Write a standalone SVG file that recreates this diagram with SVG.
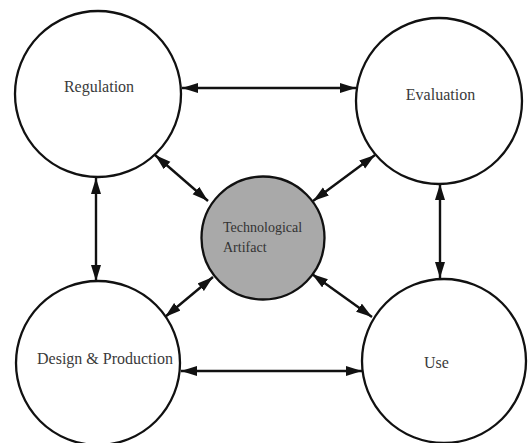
<svg xmlns="http://www.w3.org/2000/svg" width="528" height="443" viewBox="0 0 528 443">
  <style>
    .node { fill: #ffffff; stroke: #111111; stroke-width: 2.3; }
    .core { fill: #a9a9a9; stroke: #111111; stroke-width: 2.3; }
    text { font-family: "Liberation Serif", "DejaVu Serif", "Times New Roman", serif; font-size: 16px; fill: #3a3a3a; }
    .small { font-size: 14px; fill: #333333; }
    .link { stroke: #111111; stroke-width: 2.4; fill: none; marker-start: url(#head); marker-end: url(#head); }
  </style>
  <defs>
    <marker id="head" markerUnits="userSpaceOnUse" markerWidth="17" markerHeight="11" refX="16" refY="5" orient="auto-start-reverse">
      <path d="M0,0 L16,5 L0,10 z" fill="#111111"/>
    </marker>
  </defs>
  <rect width="528" height="443" fill="#ffffff"/>

  <g id="connectors">
    <line class="link" x1="182" y1="88" x2="356" y2="88"/>
    <line class="link" x1="181" y1="371" x2="362" y2="371"/>
    <line class="link" x1="96" y1="178" x2="96" y2="281"/>
    <line class="link" x1="440" y1="184" x2="440" y2="278"/>
    <line class="link" x1="155" y1="155" x2="208" y2="201"/>
    <line class="link" x1="375" y1="155" x2="313" y2="201"/>
    <line class="link" x1="165" y1="317" x2="213" y2="277"/>
    <line class="link" x1="312" y1="274" x2="372" y2="317"/>
  </g>

  <g id="regulation">
    <circle class="node" cx="98" cy="94" r="83"/>
    <text x="99" y="92" text-anchor="middle">Regulation</text>
  </g>

  <g id="evaluation">
    <circle class="node" cx="439" cy="101" r="83"/>
    <text x="440.5" y="100" text-anchor="middle">Evaluation</text>
  </g>

  <g id="design-production">
    <circle class="node" cx="98" cy="363" r="82"/>
    <text x="37" y="364">Design &amp; Production</text>
  </g>

  <g id="use">
    <circle class="node" cx="444" cy="361" r="82"/>
    <text x="436.5" y="368" text-anchor="middle">Use</text>
  </g>

  <g id="technological-artifact">
    <circle class="core" cx="263" cy="238" r="61.5"/>
    <text class="small" x="223" y="232">Technological</text>
    <text class="small" x="223" y="252">Artifact</text>
  </g>
</svg>
